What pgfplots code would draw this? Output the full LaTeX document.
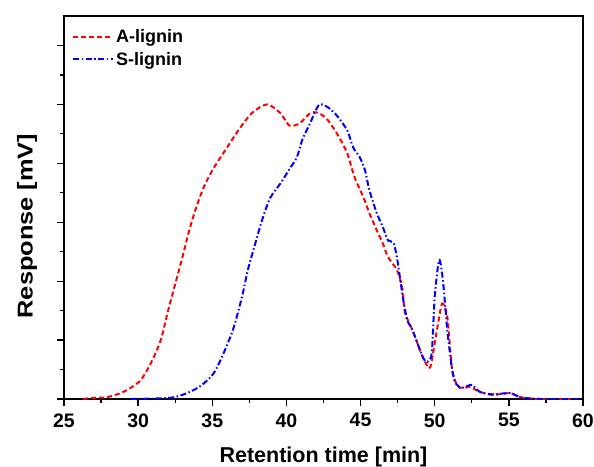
\documentclass[border=0pt]{standalone}
\usepackage{fontspec}
\setmainfont{Liberation Sans}
\usepackage{graphicx}
\usepackage{pgfplots}
\pgfplotsset{compat=1.18}

\begin{document}
\begin{tikzpicture}
\useasboundingbox (-64bp,-68bp) rectangle (530bp,399bp);
\begin{axis}[
  scale only axis, width=519bp, height=383bp,
  xmin=25, xmax=60, ymin=0, ymax=6.5,
  xtick={25,30,...,60}, minor x tick num=1,
  ytick={0,1,...,6}, minor y tick num=1,
  yticklabels={},
  xtick pos=left, ytick pos=left,
  tick align=outside,
  major tick length=7bp, minor tick length=4bp,
  tick style={black, line width=1.3bp},
  axis line style={line width=1.6bp},
  /pgf/number format/assume math mode=true,
  xticklabel style={font=\fontsize{19.5bp}{19.5bp}\selectfont\bfseries, yshift=-4bp},
  xlabel={Retention time [min]},
  xlabel style={font=\fontsize{21.5bp}{22bp}\selectfont\bfseries, at={(axis description cs:0.5,-0.152)}, anchor=center},
  ylabel={\scalebox{1.18}[1]{Response [mV]}},
  ylabel style={font=\fontsize{21.5bp}{22bp}\selectfont\bfseries, at={(axis description cs:-0.0713,0.4517)}, anchor=center},
  legend style={draw=none, fill=none, at={(axis description cs:0.0154,0.97)}, anchor=north west,
    font=\fontsize{18bp}{18bp}\selectfont\bfseries, inner sep=0pt, row sep=4bp},
  legend cell align=left,
  legend image code/.code={\draw[#1] (0bp,0bp) -- (40bp,0bp);},
]
\addplot[red, line width=2bp, dash pattern=on 5bp off 3bp, smooth, tension=0.45] coordinates {
(26.3,0) (26.9,0.02) (27.9,0.03) (29.0,0.12) (30.1,0.3) (30.8,0.58) (31.5,0.98) (32.0,1.48)
(32.5,1.95) (33.0,2.42) (33.4,2.82) (33.85,3.2) (34.4,3.58) (35.05,3.9) (36.0,4.27)
(36.9,4.61) (37.7,4.86) (38.7,5.0) (39.6,4.85) (40.2,4.64) (40.9,4.68) (41.6,4.85)
(42.1,4.86) (42.7,4.76) (43.4,4.51) (44.1,4.17) (44.6,3.76) (45.2,3.42) (45.6,3.15)
(46.1,2.86) (46.5,2.64) (46.85,2.41) (47.45,2.19) (47.8,1.9) (48.0,1.46) (48.5,1.17)
(49.0,0.83) (49.35,0.63) (49.7,0.54) (50.15,1.17) (50.5,1.62) (50.85,1.39) (51.15,0.54)
(51.4,0.29) (51.7,0.19) (52.4,0.2) (53.05,0.12) (53.9,0.07) (55.1,0.1) (55.75,0.03)
(57.1,0) (59.3,0)
};
\addlegendentry{A-lignin}
\addplot[blue, line width=2bp, dash pattern=on 6bp off 2.5bp on 1.5bp off 2.5bp, smooth, tension=0.45] coordinates {
(29.5,0) (32.15,0.02) (33.3,0.1) (34.2,0.22) (35.05,0.42) (35.7,0.74) (36.4,1.18) (37.0,1.73)
(37.4,2.19) (37.9,2.64) (38.35,3.03) (38.9,3.41) (39.6,3.66) (40.25,3.92) (40.7,4.1)
(41.1,4.42) (41.6,4.68) (41.9,4.86) (42.25,5.0) (42.8,4.95) (43.4,4.81) (44.1,4.56)
(44.5,4.27) (44.95,4.1) (45.3,3.88) (45.6,3.54) (46.1,3.15) (46.5,2.92) (46.85,2.69)
(47.2,2.66) (47.45,2.41) (47.85,1.73) (48.15,1.34) (48.5,1.17) (49.2,0.71) (49.5,0.63)
(49.8,0.78) (50.0,1.73) (50.3,2.36) (50.55,2.02) (50.85,1.17) (51.15,0.54) (51.4,0.27)
(51.85,0.19) (52.5,0.24) (53.05,0.12) (53.9,0.08) (55.1,0.1) (55.75,0.03) (57.1,0) (59.7,0)
};
\addlegendentry{S-lignin}
\end{axis}
\end{tikzpicture}
\end{document}
